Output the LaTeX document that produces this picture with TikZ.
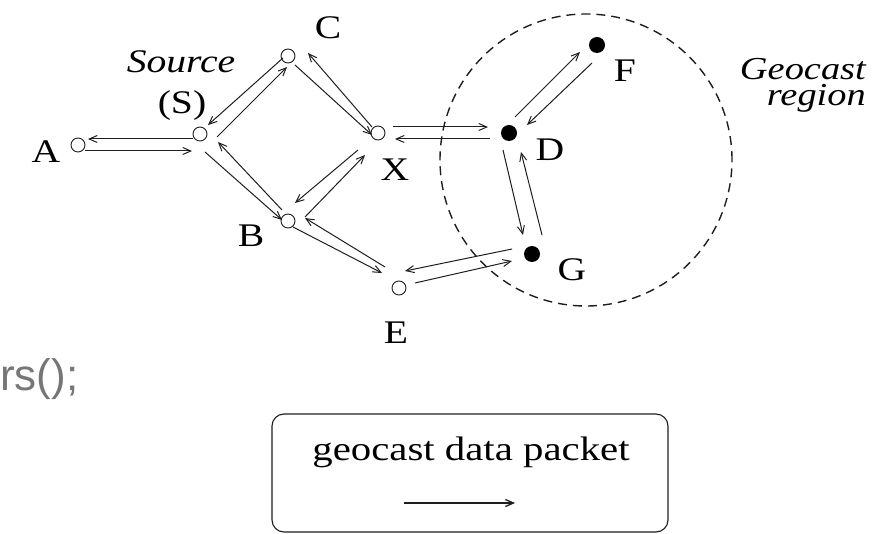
\documentclass[tikz,border=0pt]{standalone}
\usepackage{fontspec}
\setmainfont{Liberation Serif}[FakeStretch=1.2]
\newfontfamily\graysans{Liberation Sans}
\usetikzlibrary{arrows.meta}
\definecolor{codegray}{HTML}{767676}
\definecolor{ink}{HTML}{1e1e1e}
\begin{document}
\begin{tikzpicture}[x=1pt,y=-1pt,
  every node/.style={font=\fontsize{33}{36}\selectfont},
  oc/.style={circle,draw=ink,fill=white,line width=0.9pt,minimum size=14pt,inner sep=0pt},
  fc/.style={circle,fill=black,minimum size=16pt,inner sep=0pt},
  lbl/.style={inner sep=0pt},
  pk/.style={draw=ink,line width=1pt,-{Straight Barb[length=8pt,width=7pt]}}]
\useasboundingbox (0,0) rectangle (873,534);
% geocast region
\node[draw=ink,dash pattern=on 9pt off 6pt,line width=1.4pt,circle,minimum size=292pt,inner sep=0pt] (region) at (586,160) {};
% nodes
\node[oc] (A) at (78,145) {};
\node[oc] (S) at (200,134) {};
\node[oc] (C) at (288,56) {};
\node[oc] (X) at (378,133) {};
\node[oc] (B) at (288,221) {};
\node[oc] (E) at (399,288) {};
\node[fc] (D) at (509,133) {};
\node[fc] (F) at (597,45) {};
\node[fc] (G) at (532,254) {};
% labels
\node[lbl] (lA) at (46,152) {A};
\node[lbl] (lSrc) at (181,62) {\itshape Source};
\node[lbl] (lS) at (182,106) {(S)};
\node[lbl] (lC) at (328,28) {C};
\node[lbl] (lX) at (395,170) {X};
\node[lbl] (lB) at (251,236) {B};
\node[lbl] (lE) at (396,333) {E};
\node[lbl] (lD) at (550,150) {D};
\node[lbl] (lF) at (625,71) {F};
\node[lbl] (lG) at (572,270) {G};
\node[lbl,anchor=base east,font=\fontsize{32}{36}\selectfont\itshape] (lGeo1) at (866,80) {Geocast};
\node[lbl,anchor=base east,font=\fontsize{32}{36}\selectfont\itshape] (lGeo2) at (866,106) {region};
% packets
\draw[pk] ([shift={(7,6)}]A.center) -- ([shift={(-8,17)}]S.center);
\draw[pk] ([shift={(-7,5)}]S.center) -- ([shift={(10,-6)}]A.center);
\draw[pk] ([shift={(17,3)}]S.center) -- ([shift={(-1,11)}]C.center);
\draw[pk] ([shift={(-5,2)}]C.center) -- ([shift={(8,-9)}]S.center);
\draw[pk] ([shift={(5,18)}]S.center) -- ([shift={(-6,-1)}]B.center);
\draw[pk] ([shift={(-6,-11)}]B.center) -- ([shift={(18,8)}]S.center);
\draw[pk] ([shift={(7,9)}]C.center) -- ([shift={(-6,2)}]X.center);
\draw[pk] ([shift={(-6,-6)}]X.center) -- ([shift={(20,-3)}]C.center);
\draw[pk] ([shift={(-20,17)}]X.center) -- ([shift={(7,-18)}]B.center);
\draw[pk] ([shift={(17,-4)}]B.center) -- ([shift={(-13,22)}]X.center);
\draw[pk] ([shift={(5,6)}]B.center) -- ([shift={(-17,-15)}]E.center);
\draw[pk] ([shift={(-14,-21)}]E.center) -- ([shift={(17,-3)}]B.center);
\draw[pk] ([shift={(15,-6)}]X.center) -- ([shift={(-21,-6)}]D.center);
\draw[pk] ([shift={(-19,6)}]D.center) -- ([shift={(17,6)}]X.center);
\draw[pk] ([shift={(6,-16)}]D.center) -- ([shift={(-17,7)}]F.center);
\draw[pk] ([shift={(-5,18)}]F.center) -- ([shift={(18,-8)}]D.center);
\draw[pk] ([shift={(-6,17)}]D.center) -- ([shift={(-9,-19)}]G.center);
\draw[pk] ([shift={(10,-19)}]G.center) -- ([shift={(12,19)}]D.center);
\draw[pk] ([shift={(-20,-5)}]G.center) -- ([shift={(6,-17)}]E.center);
\draw[pk] ([shift={(16,-5)}]E.center) -- ([shift={(-20,7)}]G.center);
% stray code text
\node[anchor=base west,inner sep=0pt,font=\graysans\fontsize{44}{44}\selectfont,text=codegray] (code) at (0,391) {rs();};
% legend
\node[draw=ink,line width=1.1pt,rounded corners=12pt,minimum width=396pt,minimum height=118pt,inner sep=0pt] (legend) at (470,473) {};
\node[lbl,font=\fontsize{34}{36}\selectfont] (legtext) at (471,452) {geocast data packet};
\coordinate (la) at (404,503);
\coordinate (lb) at (515,503);
\draw[pk,line width=1.3pt] (la) -- (lb);
\end{tikzpicture}
\end{document}
